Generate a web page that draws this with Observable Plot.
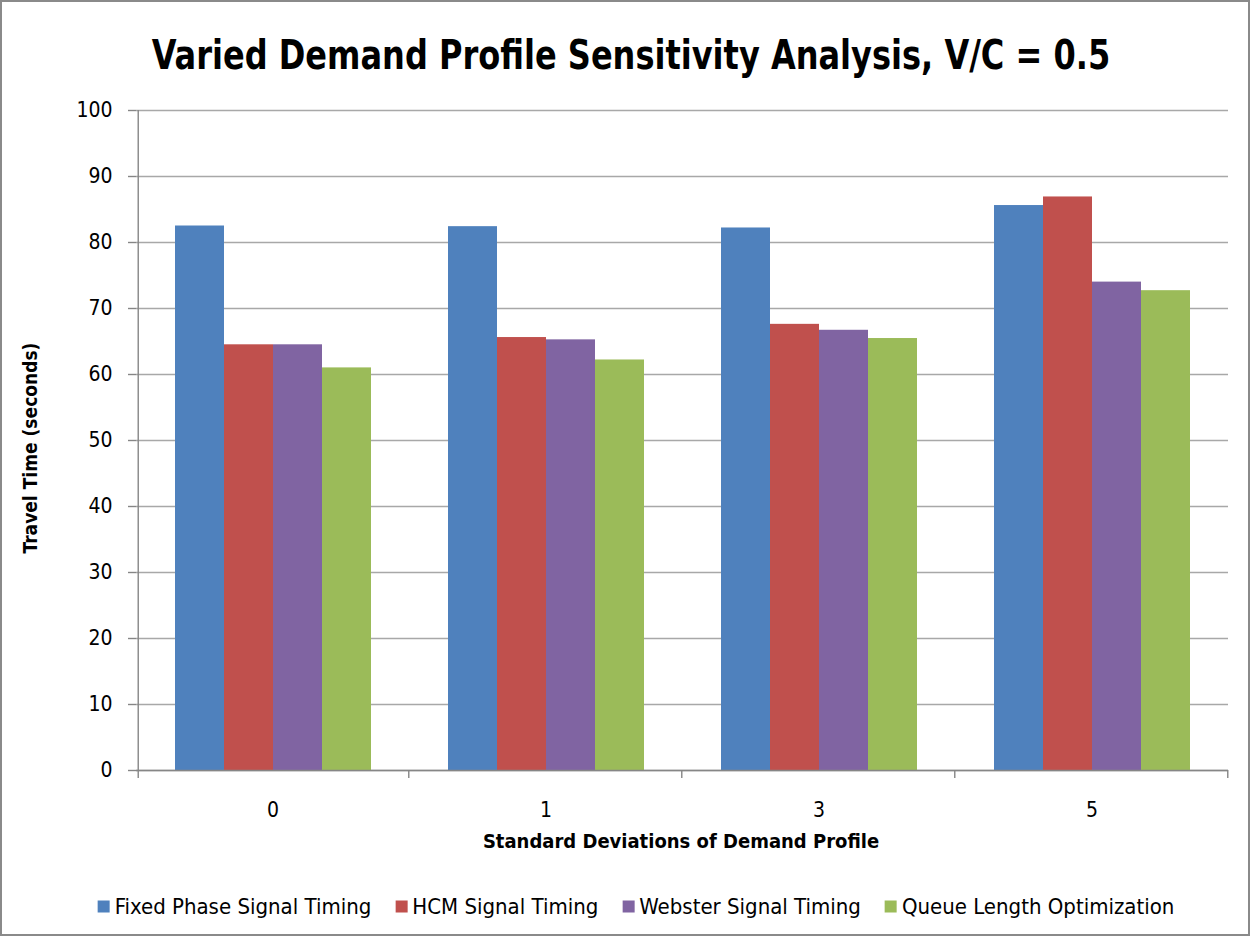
<!DOCTYPE html>
<html>
<head>
<meta charset="utf-8">
<script src="https://cdn.jsdelivr.net/npm/d3@7"></script>
<script src="https://cdn.jsdelivr.net/npm/@observablehq/plot@0.6"></script>
<style>
  html, body { margin: 0; padding: 0; background: #fff; }
  #chart { position: relative; width: 1250px; height: 936px; overflow: hidden; background: #fff;
    font-family: "Liberation Sans Narrow", "DejaVu Sans Condensed", "Roboto", sans-serif; color: #000; }
  #frame { position: absolute; left: 0; top: 0; width: 1250px; height: 936px; box-sizing: border-box;
    border: 2px solid #8a8a8a; pointer-events: none; }
  #title { position: absolute; left: 12px; width: 1238px; top: 30px; line-height: 50px; text-align: center;
    font-size: 40px; font-weight: bold; transform: scaleX(0.89); transform-origin: 50% 50%; }
  #ytitle { position: absolute; left: 30px; top: 448px; transform: translate(-50%, -50%) rotate(-90deg);
    white-space: nowrap; font-size: 19px; font-weight: bold; }
  #xtitle { position: absolute; left: 681px; top: 841px; transform: translate(-50%, -50%);
    white-space: nowrap; font-size: 20px; font-weight: bold; }
  #legend { position: absolute; left: 636px; top: 906px; transform: translate(-50%, -50%);
    display: flex; gap: 24px; white-space: nowrap; font-size: 22px; }
  .item { display: flex; align-items: center; gap: 5px; }
  .sw { width: 12px; height: 12px; display: inline-block; }
  #plot { position: absolute; left: 0; top: 0; }
</style>
</head>
<body>
<div id="chart">
  <div id="plot"></div>
  <div id="title">Varied Demand Profile Sensitivity Analysis, V/C = 0.5</div>
  <div id="ytitle">Travel Time (seconds)</div>
  <div id="xtitle">Standard Deviations of Demand Profile</div>
  <div id="legend"></div>
  <div id="frame"></div>
</div>
<script>
const categories = ["0", "1", "3", "5"];
const series = ["Fixed Phase Signal Timing", "HCM Signal Timing", "Webster Signal Timing", "Queue Length Optimization"];
const fixedPhase = [82.5, 82.4, 82.2, 85.6];
const hcm = [64.5, 65.6, 67.6, 86.9];
const webster = [64.5, 65.25, 66.7, 74.0];
const queueLength = [61.0, 62.2, 65.45, 72.7];
const yTicks = [0, 10, 20, 30, 40, 50, 60, 70, 80, 90, 100];
const colors = ["#4F81BD", "#C0504D", "#8064A2", "#9BBB59"];

const seriesValues = [fixedPhase, hcm, webster, queueLength];
const rows = [];
categories.forEach((c, i) => series.forEach((s, j) => rows.push({cat: c, series: s, value: seriesValues[j][i]})));

const W = 1250, H = 830, mL = 136, mR = 22, mT = 110, mB = 60;
const paddingOuter = 0.74;
const facetW = (W - mL - mR) / categories.length;
const step = facetW / (series.length + 2 * paddingOuter);
const edge = step * (0.5 + paddingOuter);
const FONT = '"Liberation Sans Narrow", "DejaVu Sans Condensed", "Roboto", sans-serif';
const axisGrey = "#868686";

const plot = Plot.plot({
  width: W, height: H,
  marginLeft: mL, marginRight: mR, marginTop: mT, marginBottom: mB,
  style: {fontFamily: FONT, fontSize: "20px", background: "transparent", color: "#000"},
  fx: {domain: categories, padding: 0, axis: null, label: null},
  x: {domain: series, paddingInner: 0, paddingOuter: paddingOuter, axis: null},
  y: {domain: [0, 100], axis: null},
  color: {domain: series, range: colors},
  marks: [
    Plot.ruleY(yTicks, {stroke: "#a8a8a8", strokeWidth: 1.4}),
    Plot.barY(rows, {fx: "cat", x: "series", y: "value", fill: "series"}),
    Plot.ruleY([0], {stroke: axisGrey, strokeWidth: 1.4}),
    // y-axis line (left edge of first group)
    Plot.ruleX([categories[0]], {fx: d => d, x: () => series[0], dx: -edge, y1: -1.2, y2: 100, stroke: axisGrey, strokeWidth: 1.4}),
    // separator ticks at right edge of each group
    Plot.ruleX(categories, {fx: d => d, x: () => series[series.length - 1], dx: edge, y1: -1.2, y2: 0, stroke: axisGrey, strokeWidth: 1.4}),
    Plot.axisY(yTicks, {tickSize: 8, tickPadding: 16, stroke: axisGrey, fill: "#000", fontSize: 21, label: null, strokeWidth: 1.4}),
    Plot.axisFx({anchor: "bottom", tickSize: 0, tickPadding: 32, fontSize: 21, label: null})
  ]
});
document.getElementById("plot").appendChild(plot);

const legend = document.getElementById("legend");
series.forEach((s, i) => {
  const item = document.createElement("div");
  item.className = "item";
  const sw = document.createElement("span");
  sw.className = "sw";
  sw.style.background = colors[i];
  const t = document.createElement("span");
  t.textContent = s;
  item.appendChild(sw); item.appendChild(t);
  legend.appendChild(item);
});
</script>
</body>
</html>
